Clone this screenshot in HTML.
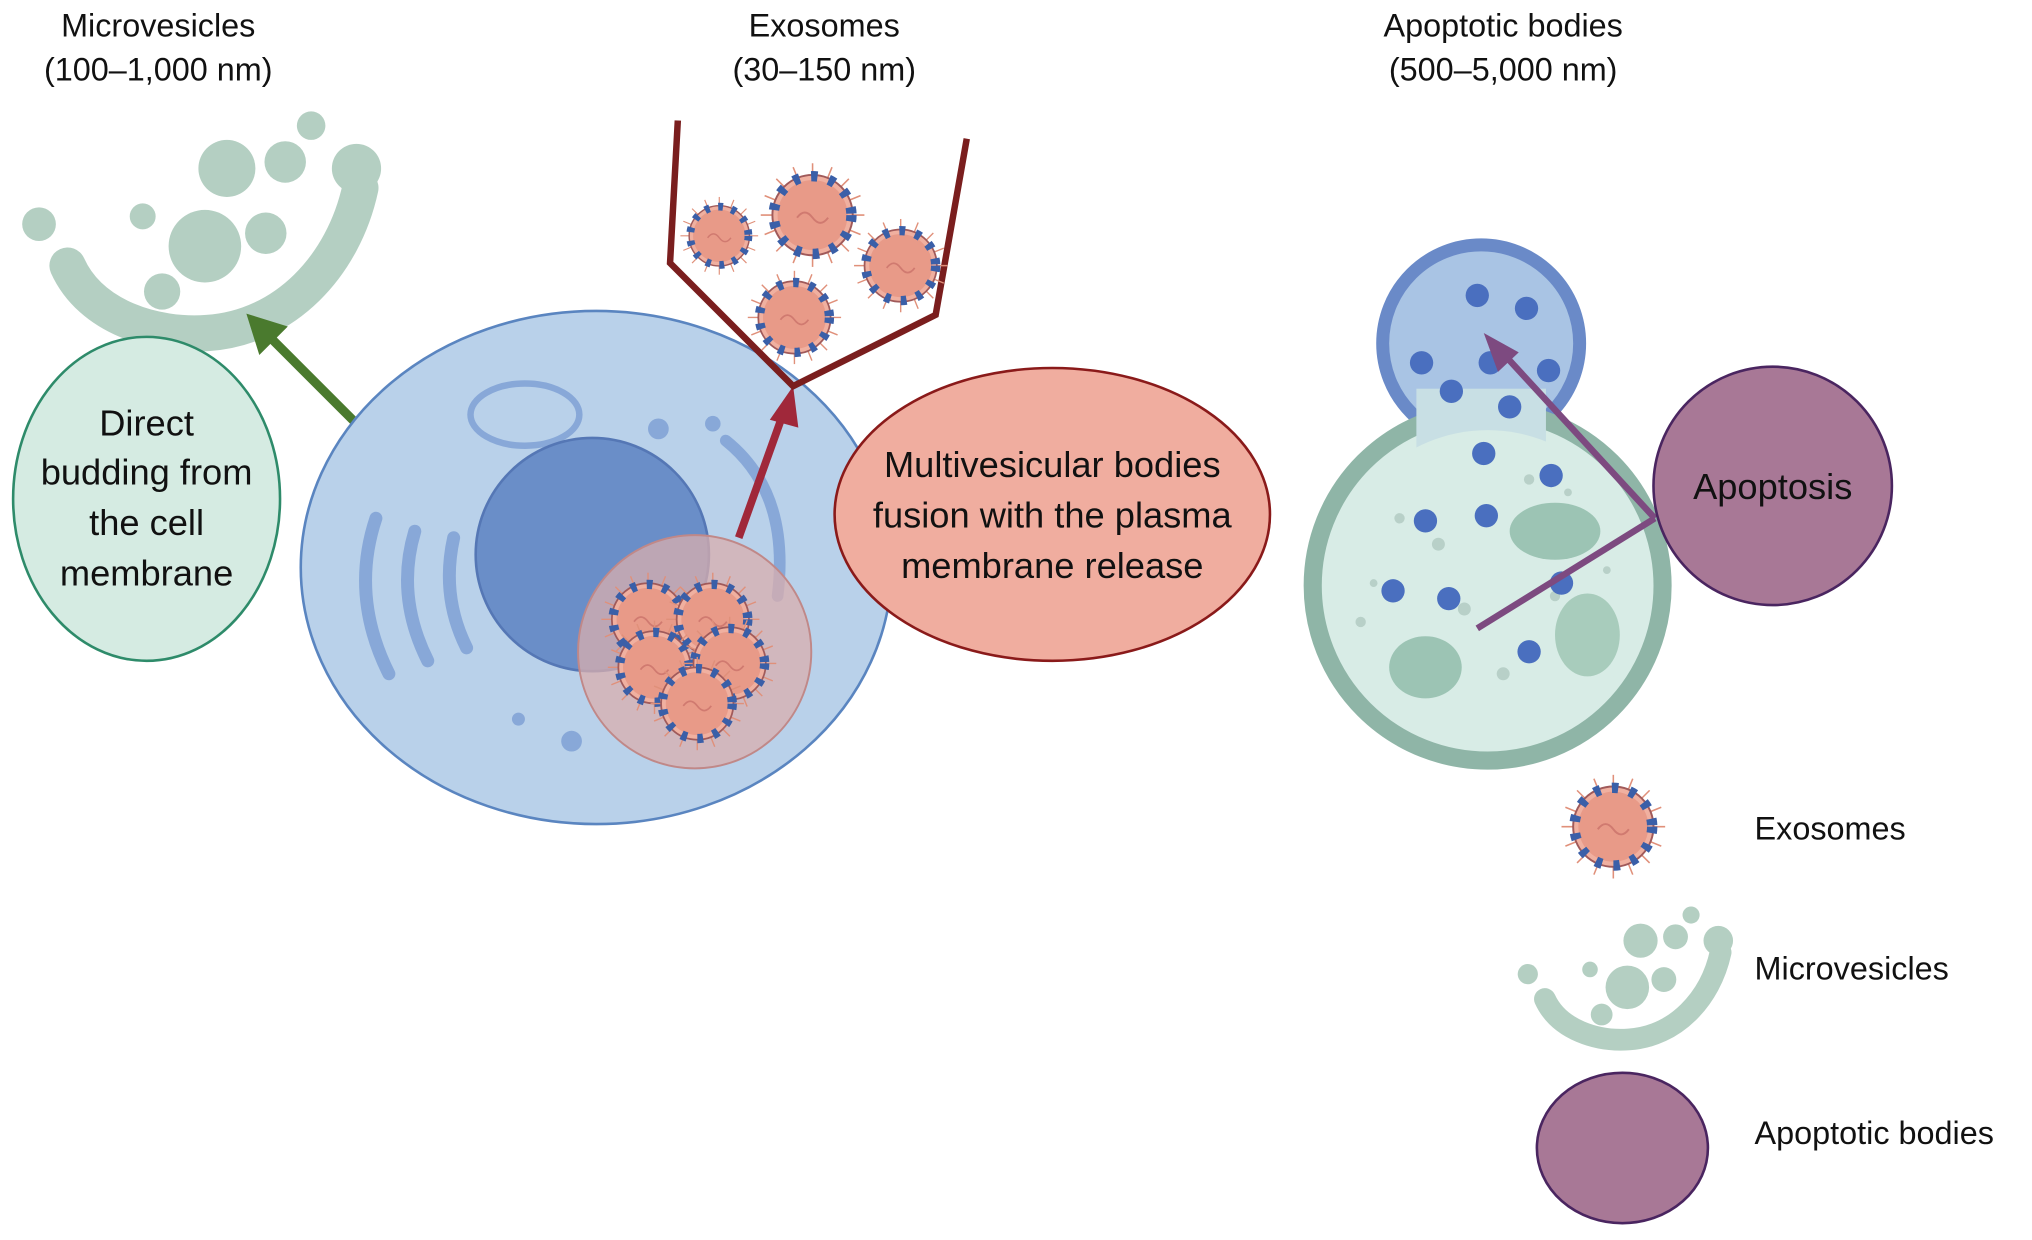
<!DOCTYPE html>
<html><head><meta charset="utf-8"><style>
html,body{margin:0;padding:0;background:#fff;}
svg{display:block;}
text{font-family:"Liberation Sans",Arial,sans-serif;fill:#111;}
</style></head><body>
<svg width="2032" height="1240" viewBox="0 0 1568 957" xmlns="http://www.w3.org/2000/svg">
<defs>
<g id="exo">
 <g stroke="#e0907a" stroke-width="1.2">
  <line x1="-40" y1="0" x2="40" y2="0"/><line x1="0" y1="-40" x2="0" y2="40"/>
  <line x1="-28" y1="-28" x2="28" y2="28"/><line x1="-28" y1="28" x2="28" y2="-28"/>
  <line x1="-15" y1="-37" x2="15" y2="37"/><line x1="-37" y1="-15" x2="37" y2="15"/>
  <line x1="15" y1="-37" x2="-15" y2="37"/><line x1="37" y1="-15" x2="-37" y2="15"/>
 </g>
 <circle r="31" fill="#f0b0a0" stroke="#a05a5a" stroke-width="1.5"/>
 <circle r="27" fill="#e89a88" stroke="none"/>
 <circle r="30" fill="none" stroke="#3a5fa8" stroke-width="8" stroke-dasharray="5 9"/>
 <path d="M-12 2 q6 -8 12 0 t12 0" stroke="#d07a70" fill="none" stroke-width="1.5"/>
</g>
<g id="mv">
 <path d="M12 110 C30 150 80 165 120 162 C180 158 225 110 238 50" fill="none" stroke="#b4cfc2" stroke-width="28" stroke-linecap="round"/>
 <circle cx="-10" cy="78" r="13" fill="#b4cfc2"/>
 <circle cx="70" cy="72" r="10" fill="#b4cfc2"/>
 <circle cx="135" cy="35" r="22" fill="#b4cfc2"/>
 <circle cx="118" cy="95" r="28" fill="#b4cfc2"/>
 <circle cx="85" cy="130" r="14" fill="#b4cfc2"/>
 <circle cx="165" cy="85" r="16" fill="#b4cfc2"/>
 <circle cx="180" cy="30" r="16" fill="#b4cfc2"/>
 <circle cx="200" cy="2" r="11" fill="#b4cfc2"/>
 <circle cx="235" cy="35" r="19" fill="#b4cfc2"/>
</g>
</defs>

<g font-size="25" text-anchor="middle">
<text x="122" y="28">Microvesicles</text><text x="122" y="62">(100–1,000 nm)</text>
<text x="636" y="28">Exosomes</text><text x="636" y="62">(30–150 nm)</text>
<text x="1160" y="28">Apoptotic bodies</text><text x="1160" y="62">(500–5,000 nm)</text>
</g>

<use href="#mv" x="40" y="95"/>

<ellipse cx="113" cy="385" rx="103" ry="125" fill="#d5ebe2" stroke="#2e8b6a" stroke-width="2"/>
<g font-size="28" text-anchor="middle">
<text x="113" y="336">Direct</text><text x="113" y="374">budding from</text>
<text x="113" y="413">the cell</text><text x="113" y="452">membrane</text>
</g>

<line x1="275" y1="327" x2="210" y2="262" stroke="#4a7a2e" stroke-width="7"/>
<polygon points="190,242 222,252 200,274" fill="#4a7a2e"/>

<ellipse cx="460" cy="438" rx="228" ry="198" fill="#b9d1ea" stroke="#5a85c0" stroke-width="2"/>
<ellipse cx="405" cy="320" rx="42" ry="24" fill="none" stroke="#88a8d8" stroke-width="5"/>
<path d="M290 400 Q270 460 300 520" stroke="#88a8d8" stroke-width="10" fill="none" stroke-linecap="round"/>
<path d="M320 410 Q305 460 330 510" stroke="#88a8d8" stroke-width="10" fill="none" stroke-linecap="round"/>
<path d="M350 415 Q340 460 360 500" stroke="#88a8d8" stroke-width="10" fill="none" stroke-linecap="round"/>
<path d="M560 340 Q610 380 600 460" stroke="#88a8d8" stroke-width="9" fill="none" stroke-linecap="round"/>
<circle cx="508" cy="331" r="8" fill="#88a8d8"/><circle cx="550" cy="327" r="6" fill="#88a8d8"/>
<circle cx="441" cy="572" r="8" fill="#88a8d8"/><circle cx="400" cy="555" r="5" fill="#88a8d8"/>
<circle cx="457" cy="428" r="90" fill="#6a8ec8" stroke="#5577b5" stroke-width="2"/>
<circle cx="536" cy="503" r="90" fill="#d9aeae" fill-opacity="0.75" stroke="#c08888" stroke-width="1.5"/>
<use href="#exo" transform="translate(500,478) scale(0.9)"/>
<use href="#exo" transform="translate(550,478) scale(0.9)"/>
<use href="#exo" transform="translate(505,515) scale(0.9)"/>
<use href="#exo" transform="translate(563,512) scale(0.9)"/>
<use href="#exo" transform="translate(538,543) scale(0.9)"/>

<line x1="570" y1="415" x2="604" y2="320" stroke="#a0283a" stroke-width="6"/>
<polygon points="612,298 594,324 616,330" fill="#a0283a"/>

<polyline points="523,93 517,203 612,298 722,243 746,107" fill="none" stroke="#7a1e1e" stroke-width="5"/>
<use href="#exo" transform="translate(555,182) scale(0.75)"/>
<use href="#exo" transform="translate(627,166)"/>
<use href="#exo" transform="translate(695,205) scale(0.9)"/>
<use href="#exo" transform="translate(613,245) scale(0.9)"/>

<ellipse cx="812" cy="397" rx="168" ry="113" fill="#f0ad9f" stroke="#8a1a1a" stroke-width="2"/>
<g font-size="28" text-anchor="middle">
<text x="812" y="368">Multivesicular bodies</text>
<text x="812" y="407">fusion with the plasma</text>
<text x="812" y="446">membrane release</text>
</g>

<circle cx="1143" cy="265" r="76" fill="#a9c4e4" stroke="#6a8ac8" stroke-width="10"/>
<circle cx="1148" cy="452" r="135" fill="#d8ece6" stroke="#8fb5a7" stroke-width="14"/>
<rect x="1093" y="300" width="100" height="60" fill="#c8dfe4"/>
<circle cx="1148" cy="452" r="120" fill="#d8ece6"/>
<g fill="#b8d0c8">
<circle cx="1080" cy="400" r="4"/><circle cx="1110" cy="420" r="5"/><circle cx="1180" cy="370" r="4"/>
<circle cx="1060" cy="450" r="3"/><circle cx="1130" cy="470" r="5"/><circle cx="1200" cy="460" r="4"/>
<circle cx="1160" cy="520" r="5"/><circle cx="1100" cy="510" r="3"/><circle cx="1210" cy="380" r="3"/>
<circle cx="1050" cy="480" r="4"/><circle cx="1240" cy="440" r="3"/>
</g>
<g fill="#4a6fbf">
<circle cx="1140" cy="228" r="9"/><circle cx="1178" cy="238" r="9"/><circle cx="1097" cy="280" r="9"/>
<circle cx="1120" cy="302" r="9"/><circle cx="1150" cy="280" r="9"/><circle cx="1165" cy="314" r="9"/>
<circle cx="1195" cy="286" r="9"/><circle cx="1145" cy="350" r="9"/><circle cx="1197" cy="367" r="9"/>
<circle cx="1147" cy="398" r="9"/><circle cx="1100" cy="402" r="9"/><circle cx="1075" cy="456" r="9"/>
<circle cx="1118" cy="462" r="9"/><circle cx="1180" cy="503" r="9"/><circle cx="1205" cy="450" r="9"/>
</g>
<ellipse cx="1200" cy="410" rx="35" ry="22" fill="#9cc4b4"/>
<ellipse cx="1225" cy="490" rx="25" ry="32" fill="#a8ccbc"/>
<ellipse cx="1100" cy="515" rx="28" ry="24" fill="#9cc4b4"/>

<line x1="1140" y1="485" x2="1277" y2="400" stroke="#7d4a80" stroke-width="5"/>
<line x1="1277" y1="400" x2="1162" y2="275" stroke="#7d4a80" stroke-width="5"/>
<polygon points="1145,257 1172,272 1156,287" fill="#7d4a80"/>

<circle cx="1368" cy="375" r="92" fill="#a87896" stroke="#4a2560" stroke-width="2"/>
<text x="1368" y="385" font-size="28" text-anchor="middle">Apoptosis</text>

<use href="#exo" transform="translate(1245,638)"/>
<text x="1354" y="648" font-size="25">Exosomes</text>
<use href="#mv" transform="translate(1185,705) scale(0.6)"/>
<text x="1354" y="756" font-size="25">Microvesicles</text>
<ellipse cx="1252" cy="886" rx="66" ry="58" fill="#a87896" stroke="#4a2560" stroke-width="2"/>
<text x="1354" y="883" font-size="25">Apoptotic bodies</text>
</svg>
</body></html>
